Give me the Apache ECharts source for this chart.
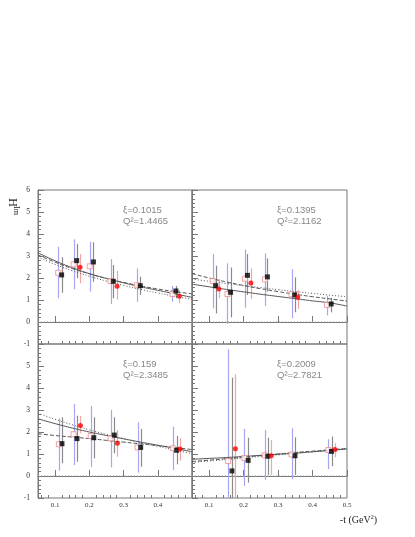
<!DOCTYPE html>
<html>
<head>
<meta charset="utf-8">
<script src="https://cdn.jsdelivr.net/npm/echarts@6/dist/echarts.min.js"></script>
<style>
html, body { margin: 0; padding: 0; background: #fff; }
#main { width: 415px; height: 537px; }
</style>
</head>
<body>
<div id="main"></div>
<script>
// tick positions on the -t axis
var xMajorTicks = [0.1, 0.2, 0.3, 0.4, 0.5];
var xMinorTicks = [0.06, 0.08, 0.12, 0.14, 0.16, 0.18, 0.22, 0.24, 0.26, 0.28,
                   0.32, 0.34, 0.36, 0.38, 0.42, 0.44, 0.46, 0.48];

var xiValues = ['0.1015', '0.1395', '0.159', '0.2009'];
var q2Values = ['1.4465', '2.1162', '2.3485', '2.7821'];

// points: [t, value, low, high]
var openA  = [[0.109, 2.24, 1.08, 3.42], [0.154, 2.62, 1.49, 3.76], [0.201, 2.53, 1.38, 3.65],
              [0.262, 1.86, 0.82, 2.86], [0.339, 1.67, 0.92, 2.44], [0.443, 1.27, 0.92, 1.64]];
var blackA = [[0.119, 2.14, 1.33, 2.94], [0.163, 2.79, 1.99, 3.55], [0.212, 2.73, 1.83, 3.62],
              [0.270, 1.85, 1.08, 2.59], [0.349, 1.65, 1.23, 2.06], [0.453, 1.41, 1.08, 1.64]];
var redA   = [[0.173, 2.49, 1.76, 3.09], [0.281, 1.62, 1.03, 2.32], [0.463, 1.17, 0.85, 1.45]];

var openB  = [[0.110, 1.86, 0.62, 3.09], [0.153, 1.27, -0.09, 2.67], [0.204, 1.97, 0.65, 3.30],
              [0.262, 1.94, 0.73, 3.12], [0.339, 1.26, 0.17, 2.40], [0.442, 0.77, 0.30, 1.20]];
var blackB = [[0.119, 1.65, 0.39, 2.56], [0.162, 1.35, 0.21, 2.48], [0.211, 2.12, 1.23, 3.09],
              [0.269, 2.05, 1.38, 2.89], [0.348, 1.23, 0.44, 2.03], [0.454, 0.82, 0.44, 1.10]];
var redB   = [[0.128, 1.50, 1.08, 1.95], [0.221, 1.77, 1.05, 2.44], [0.357, 1.12, 0.59, 1.45]];

var openC  = [[0.111, 1.44, 0.24, 2.62], [0.154, 1.90, 0.50, 3.27], [0.204, 1.82, 0.42, 3.18],
              [0.262, 1.71, 0.39, 3.00], [0.341, 1.30, 0.15, 2.44], [0.444, 1.26, 0.27, 2.24]];
var blackC = [[0.120, 1.47, 0.58, 2.67], [0.164, 1.70, 0.65, 2.74], [0.213, 1.74, 0.80, 2.67],
              [0.273, 1.86, 1.03, 2.67], [0.350, 1.30, 0.42, 2.14], [0.455, 1.17, 0.53, 1.82]];
var redC   = [[0.174, 2.30, 1.94, 2.73], [0.282, 1.49, 0.88, 2.09], [0.465, 1.23, 0.70, 1.73]];

var openD  = [[0.155, 0.68, -1.0, 5.76], [0.202, 0.82, -0.45, 2.14], [0.261, 0.94, -0.18, 2.09],
              [0.339, 0.98, -0.15, 2.17], [0.446, 1.18, 0.31, 1.67]];
var blackD = [[0.166, 0.23, -1.0, 4.47], [0.213, 0.71, -0.30, 1.74], [0.270, 0.90, 0.05, 1.74],
              [0.349, 0.92, 0.05, 1.76], [0.455, 1.12, 0.45, 1.79]];
var redD   = [[0.176, 1.24, -1.0, 4.62], [0.280, 0.92, 0.05, 1.64], [0.465, 1.21, 0.85, 1.49]];

// model curves read at these -t values
var tCurve  = [0.05, 0.10, 0.15, 0.20, 0.25, 0.30, 0.35, 0.40, 0.45, 0.50];
var solidA  = [3.15, 2.78, 2.47, 2.20, 1.98, 1.78, 1.60, 1.44, 1.28, 1.12];
var dashedA = [3.05, 2.72, 2.43, 2.19, 1.98, 1.80, 1.64, 1.50, 1.38, 1.28];
var dottedA = [2.95, 2.62, 2.33, 2.08, 1.86, 1.66, 1.48, 1.32, 1.17, 1.03];
var solidB  = [1.72, 1.60, 1.48, 1.37, 1.26, 1.16, 1.06, 0.96, 0.87, 0.72];
var dashedB = [2.20, 2.00, 1.82, 1.66, 1.51, 1.38, 1.26, 1.15, 1.05, 0.95];
var dottedB = [1.95, 1.85, 1.75, 1.65, 1.56, 1.47, 1.38, 1.30, 1.22, 1.15];
var solidC  = [2.60, 2.38, 2.18, 2.00, 1.84, 1.69, 1.54, 1.40, 1.26, 1.10];
var dashedC = [1.92, 1.84, 1.77, 1.70, 1.62, 1.54, 1.46, 1.38, 1.29, 1.20];
var dottedC = [2.85, 2.58, 2.33, 2.10, 1.89, 1.70, 1.52, 1.35, 1.18, 1.02];
var solidD  = [0.76, 0.80, 0.84, 0.89, 0.94, 0.99, 1.04, 1.10, 1.16, 1.23];
var dashedD = [0.66, 0.72, 0.79, 0.86, 0.93, 1.00, 1.07, 1.13, 1.19, 1.25];
var dottedD = [0.62, 0.68, 0.75, 0.82, 0.89, 0.96, 1.03, 1.10, 1.17, 1.24];

var openAll   = [openA, openB, openC, openD];
var blackAll  = [blackA, blackB, blackC, blackD];
var redAll    = [redA, redB, redC, redD];
var solidAll  = [solidA, solidB, solidC, solidD];
var dashedAll = [dashedA, dashedB, dashedC, dashedD];
var dottedAll = [dottedA, dottedB, dottedC, dottedD];

var boxes = [
    {left: 38, top: 190, width: 154},
    {left: 192, top: 190, width: 155},
    {left: 38, top: 344, width: 154},
    {left: 192, top: 344, width: 155}
];
var frameColor = '#777';
var labelFont = 'Liberation Serif';

var myChart = echarts.init(document.getElementById('main'), null, {renderer: 'canvas'});

var grids = [], xAxes = [], yAxes = [], series = [], graphics = [];

function zip(ts, vs) {
    return ts.map(function (t, k) { return [t, vs[k]]; });
}

function errorBars(pts, color, i) {
    return {
        type: 'custom', xAxisIndex: 2 * i, yAxisIndex: i, silent: true, z: 1, clip: true,
        data: pts.map(function (p) { return [p[0], p[2], p[3]]; }),
        encode: {x: 0, y: [1, 2]},
        renderItem: function (params, api) {
            var a = api.coord([api.value(0), api.value(1)]);
            var b = api.coord([api.value(0), api.value(2)]);
            return {
                type: 'line',
                shape: {x1: Math.round(a[0]) + 0.5, y1: a[1], x2: Math.round(b[0]) + 0.5, y2: b[1]},
                style: {stroke: color, lineWidth: 1.2}
            };
        }
    };
}

function curve(vs, type, i) {
    return {
        type: 'line', xAxisIndex: 2 * i, yAxisIndex: i, data: zip(tCurve, vs),
        smooth: true, symbol: 'none', silent: true, z: 2,
        lineStyle: {color: '#555', width: 1, type: type}
    };
}

for (var i = 0; i < 4; i++) {
    var b = boxes[i];
    grids.push({
        left: b.left, top: b.top, width: b.width, height: 154,
        show: true, borderColor: frameColor, borderWidth: 1, backgroundColor: 'transparent'
    });
    var xLabels = i === 2 ? [0.1, 0.2, 0.3, 0.4] : xMajorTicks;
    xAxes.push({
        gridIndex: i, type: 'value', position: 'bottom', min: 0.05, max: 0.5,
        axisLine: {show: true, lineStyle: {color: frameColor}},
        axisTick: {show: true, inside: true, length: 6, customValues: xMajorTicks, lineStyle: {color: frameColor}},
        axisLabel: {
            show: i >= 2, customValues: xLabels, margin: 4, color: '#333',
            fontSize: 7, fontFamily: labelFont,
            formatter: function (v) { return v.toFixed(1); }
        },
        splitLine: {show: false}
    });
    xAxes.push({
        gridIndex: i, type: 'value', position: 'bottom', min: 0.05, max: 0.5,
        axisLine: {show: false},
        axisTick: {show: true, inside: true, length: 3, customValues: xMinorTicks, lineStyle: {color: frameColor}},
        axisLabel: {show: false},
        splitLine: {show: false}
    });
    yAxes.push({
        gridIndex: i, type: 'value', min: -1, max: 6, interval: 1,
        axisLine: {show: true, lineStyle: {color: frameColor}},
        axisTick: {show: true, inside: true, length: 6, lineStyle: {color: frameColor}},
        minorTick: {show: true, splitNumber: 5, length: 3, lineStyle: {color: frameColor}},
        axisLabel: {
            show: i === 0 || i === 2, margin: 8, color: '#333', fontSize: 7.5, fontFamily: labelFont,
            formatter: (function (idx) {
                return function (v) { return (idx === 2 && v === 6) ? '' : String(v); };
            })(i)
        },
        splitLine: {show: false}, minorSplitLine: {show: false}
    });

    // zero line
    series.push({
        type: 'line', xAxisIndex: 2 * i, yAxisIndex: i, data: [[0.05, 0], [0.5, 0]],
        symbol: 'none', silent: true, z: 0,
        lineStyle: {color: '#999', width: 1, type: [1, 2]}
    });
    series.push(errorBars(openAll[i], '#a6a6f2', i));
    series.push(errorBars(blackAll[i], '#8a8a8a', i));
    series.push(errorBars(redAll[i], '#f4a4a4', i));
    series.push(curve(solidAll[i], 'solid', i));
    series.push(curve(dashedAll[i], [4, 2], i));
    series.push(curve(dottedAll[i], [1, 2], i));
    series.push({
        type: 'scatter', xAxisIndex: 2 * i, yAxisIndex: i, z: 3, silent: true,
        data: openAll[i].map(function (p) { return [p[0], p[1]]; }),
        symbol: 'rect', symbolSize: 5,
        itemStyle: {color: '#fff', borderColor: '#f08a8a', borderWidth: 1}
    });
    series.push({
        type: 'scatter', xAxisIndex: 2 * i, yAxisIndex: i, z: 4, silent: true,
        data: blackAll[i].map(function (p) { return [p[0], p[1]]; }),
        symbol: 'rect', symbolSize: 5, itemStyle: {color: '#000'}
    });
    series.push({
        type: 'scatter', xAxisIndex: 2 * i, yAxisIndex: i, z: 4, silent: true,
        data: redAll[i].map(function (p) { return [p[0], p[1]]; }),
        symbol: 'circle', symbolSize: 5, itemStyle: {color: '#ff0000'}
    });

    graphics.push({
        type: 'text', left: b.left + 85, top: b.top + 15,
        style: {text: 'ξ=' + xiValues[i], fill: '#888', fontSize: 9.5, fontFamily: 'Liberation Sans'}
    });
    graphics.push({
        type: 'text', left: b.left + 85, top: b.top + 26,
        style: {text: 'Q²=' + q2Values[i], fill: '#888', fontSize: 9.5, fontFamily: 'Liberation Sans'}
    });
}

// y title, rotated; big letter above its subscript as in the reference
graphics.push({
    type: 'text', x: 12, y: 202.5, rotation: -Math.PI / 2,
    style: {text: 'H', fill: '#222', fontSize: 12, fontFamily: labelFont, align: 'center', verticalAlign: 'middle'}
});
graphics.push({
    type: 'text', x: 16, y: 210.5, rotation: -Math.PI / 2,
    style: {text: 'Im', fill: '#222', fontSize: 8, fontFamily: labelFont, align: 'center', verticalAlign: 'middle'}
});
graphics.push({
    type: 'text', x: 377, y: 520,
    style: {
        text: '-t (GeV{s|2})', fill: '#222', fontSize: 10, fontFamily: labelFont,
        align: 'right', verticalAlign: 'middle',
        rich: {s: {fontSize: 6, fontFamily: labelFont, fill: '#222', padding: [0, 0, 6, 0]}}
    }
});

var option = {
    backgroundColor: '#fff',
    animation: false,
    grid: grids,
    xAxis: xAxes,
    yAxis: yAxes,
    series: series,
    graphic: graphics
};
myChart.setOption(option);
</script>
</body>
</html>
